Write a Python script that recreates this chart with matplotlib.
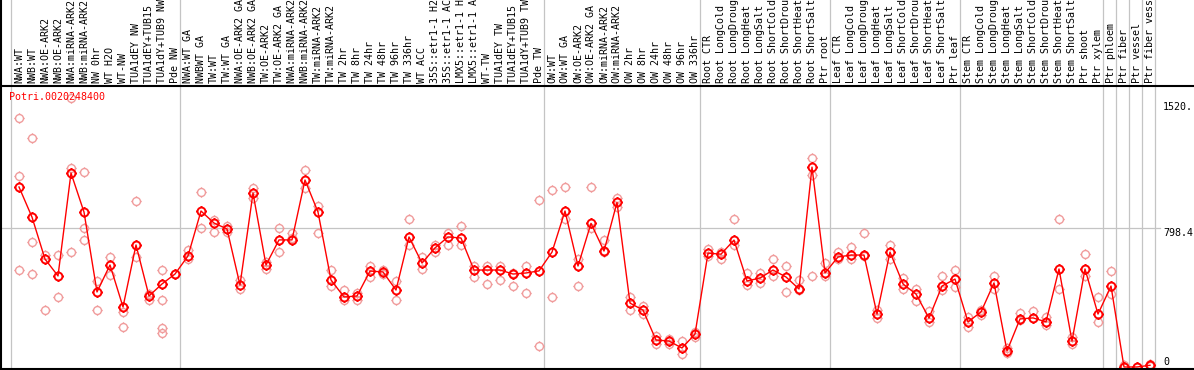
import matplotlib
matplotlib.use("Agg")
import matplotlib.pyplot as plt
from matplotlib.path import Path
from matplotlib.lines import Line2D
import matplotlib.transforms as mtransforms

title = "Potri.0020248400"

labels = [
    "NWA:WT", "NWB:WT", "NWA:OE-ARK2", "NWB:OE-ARK2", "NWA:miRNA-ARK2", "NWB:miRNA-ARK2",
    "NW 0hr", "WT H2O", "WT-NW", "TUA1dEY NW", "TUA1dEY+TUB15 NW", "TUA1dY+TUB9 NW", "Pde NW",
    "NWA:WT GA", "NWBWT GA", "TW:WT", "TW:WT GA", "NWA:OE-ARK2 GA", "NWB:OE-ARK2 GA",
    "TW:OE-ARK2", "TW:OE-ARK2 GA", "NWA:miRNA-ARK2 GA", "NWB:miRNA-ARK2 GA", "TW:miRNA-ARK2",
    "TW:miRNA-ARK2 GA", "TW 2hr", "TW 8hr", "TW 24hr", "TW 48hr", "TW 96hr", "TW 336hr",
    "WT ACC", "35S::etr1-1 H2O", "35S::etr1-1 ACC", "LMX5::etr1-1 H2O", "LMX5::etr1-1 ACC",
    "WT-TW", "TUA1dEY TW", "TUA1dEY+TUB15 TW", "TUA1dY+TUB9 TW", "Pde TW",
    "OW:WT", "OW:WT GA", "OW:OE-ARK2", "OW:OE-ARK2 GA", "OW:miRNA-ARK2", "OW:miRNA-ARK2 GA",
    "OW 2hr", "OW 8hr", "OW 24hr", "OW 48hr", "OW 96hr", "OW 336hr",
    "Root CTR", "Root LongCold", "Root LongDrought", "Root LongHeat", "Root LongSalt",
    "Root ShortCold", "Root ShortDrought", "Root ShortHeat", "Root ShortSalt", "Ptr root",
    "Leaf CTR", "Leaf LongCold", "Leaf LongDrought", "Leaf LongHeat", "Leaf LongSalt",
    "Leaf ShortCold", "Leaf ShortDrought", "Leaf ShortHeat", "Leaf ShortSalt", "Ptr leaf",
    "Stem CTR", "Stem LongCold", "Stem LongDrought", "Stem LongHeat", "Stem LongSalt",
    "Stem ShortCold", "Stem ShortDrought", "Stem ShortHeat", "Stem ShortSalt", "Ptr shoot",
    "Ptr xylem", "Ptr phloem", "Ptr fiber", "Ptr vessel", "Ptr fiber vessel",
]

group_sizes = [13, 28, 12, 10, 10, 11, 1, 1, 1, 1]

means = [
    1034, 861, 620, 523, 1114, 890, 431, 586, 345, 701, 408, 477, 534,
    638, 896, 827, 793, 471, 999, 586, 730, 730, 1074, 890, 500, 402, 408,
    551, 546, 442, 747, 597, 684, 747, 741, 557, 557, 557, 534, 540, 552,
    660, 896, 580, 825, 666, 945, 367, 327, 155, 149, 109, 189,
    654, 648, 729, 494, 511, 557, 517, 448, 1148, 540,
    632, 643, 643, 304, 660, 477, 419, 281, 465, 505,
    259, 316, 483, 92, 276, 282, 259, 563, 149, 563,
    304, 465, 0, 0, 10,
]

reps = [
    [1430, 1097, 557], [1315, 717, 534], [643, 327], [643, 402], [1545, 1143, 660],
    [1120, 798, 729], [494, 327], [631, 528], [316, 229], [954, 631], [420, 385],
    [557, 385, 224, 195], [534],
    [671, 620], [1005, 798], [844, 775], [810, 776], [500, 448], [1028, 970],
    [603, 563], [798, 660], [770, 740], [1131, 1028], [925, 770], [557, 465],
    [442, 385], [425, 385], [580, 517], [557, 534], [494, 385], [850, 700],
    [632, 563], [700, 660], [770, 700], [810, 700], [580, 517], [580, 477],
    [580, 500], [540, 465], [580, 425], [959, 120],
    [1017, 402], [1034, 850], [620, 465], [1034, 798], [729, 660], [970, 920],
    [402, 327], [350, 305], [180, 130], [160, 130], [150, 75], [200, 170],
    [680, 640], [660, 620], [850, 700], [540, 470], [540, 480], [620, 520],
    [580, 430], [500, 440], [1200, 1100, 520], [600, 520],
    [660, 620], [690, 620], [770, 640], [330, 280], [700, 620], [510, 450],
    [450, 380], [320, 260], [520, 440], [560, 460],
    [290, 230], [330, 300], [520, 450], [110, 80], [310, 270], [320, 280],
    [290, 240], [850, 450], [170, 130], [650, 520],
    [400, 260], [550, 420], [10, 0], [0], [20, 5],
]

ytick_values = [0, 798.4, 1520]
ytick_labels = ["0", "798.4", "1520."]

W, H = 1194, 370
fig = plt.figure(figsize=(W / 100, H / 100), dpi=100)
fig.patch.set_facecolor("white")

n = len(labels)
x_off = 8 / 13.0
ymax = 1614.0
ax = fig.add_axes([11 / W, 3 / H, 1144 / W, 281 / H])
ax.set_xlim(-x_off, n - x_off)
ax.set_ylim(0, ymax)
ax.axis("off")

# marker: circle with four short ticks
circ = Path.unit_circle()
verts = list(circ.vertices)
codes = list(circ.codes)
for (a, b, c, d) in [(0, 1, 0, 1.3), (0, -1, 0, -1.3), (1, 0, 1.3, 0), (-1, 0, -1.3, 0)]:
    verts += [(a, b), (c, d)]
    codes += [Path.MOVETO, Path.LINETO]
mk = Path(verts, codes)
msize = 7.4

mono = "DejaVu Sans Mono"
fs = 7.2

# grid lines (column group boundaries), spanning full figure height
bx = mtransforms.blended_transform_factory(ax.transData, fig.transFigure)
bounds = [0]
for g in group_sizes:
    bounds.append(bounds[-1] + g)
for b in bounds:
    fig.add_artist(Line2D([b - x_off, b - x_off], [0, 1], transform=bx,
                          color="#c4c4c4", lw=0.9, zorder=0))

# horizontal mid grid line
by = mtransforms.blended_transform_factory(fig.transFigure, ax.transData)
fig.add_artist(Line2D([0, 1160 / W], [ytick_values[1], ytick_values[1]], transform=by,
                      color="#c4c4c4", lw=0.9, zorder=0))

# frame lines
fig.add_artist(Line2D([0, 1], [(H - 85.5) / H] * 2, transform=fig.transFigure, color="black", lw=1.5))
fig.add_artist(Line2D([1.2 / W] * 2, [0, 1], transform=fig.transFigure, color="black", lw=1.5))
fig.add_artist(Line2D([0, 1], [1.2 / H] * 2, transform=fig.transFigure, color="black", lw=1.5))

# column labels
for i, lab in enumerate(labels):
    ax.text(i, (H - 83) / H, lab, transform=bx, rotation=90, ha="center", va="bottom",
            fontsize=fs, family=mono, color="black", clip_on=False)

# replicate points
for i, vals in enumerate(reps):
    ax.plot([i] * len(vals), vals, linestyle="none", marker=mk, markersize=msize,
            markerfacecolor="none", markeredgecolor="#f09c9c", markeredgewidth=1.0,
            clip_on=False, zorder=2)

# mean line
xs = list(range(n))
ax.plot(xs, means, color="#ff0000", lw=1.0, zorder=3, clip_on=False)
ax.plot(xs, means, linestyle="none", marker=mk, markersize=msize, markerfacecolor="none",
        markeredgecolor="#ff0000", markeredgewidth=1.4, zorder=4, clip_on=False)

# title
fig.text(9 / W, (H - 97) / H, title, color="#ff0000", fontsize=fs, family=mono,
         ha="left", va="center")

# right-hand value labels
tr = mtransforms.blended_transform_factory(fig.transFigure, ax.transData)
offs = [5, -5, -5]
for v, t, o in zip(ytick_values, ytick_labels, offs):
    trans = mtransforms.offset_copy(tr, fig=fig, x=0, y=o * 0.72, units="points")
    fig.text(1163 / W, v, t, transform=trans, fontsize=fs, family=mono,
             color="black", ha="left", va="center")

fig.savefig("out.png", dpi=100, facecolor="white")
